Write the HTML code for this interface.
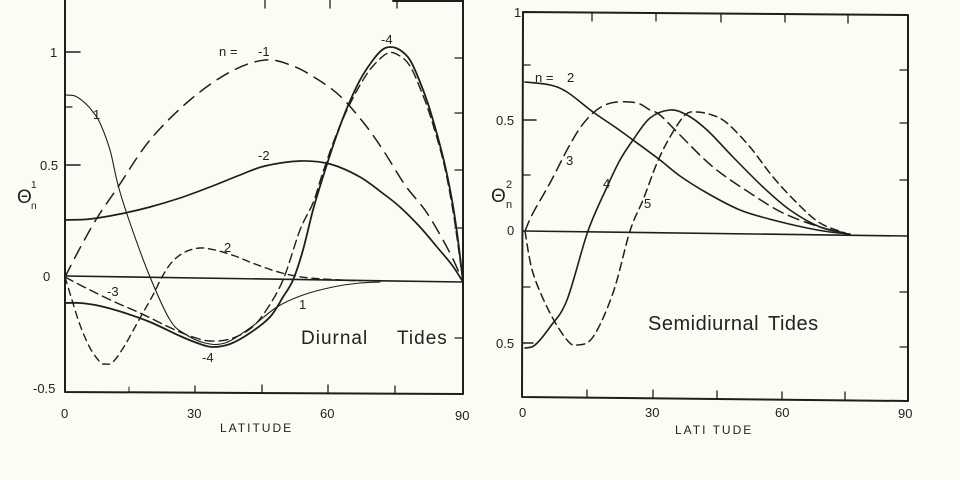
<!DOCTYPE html>
<html>
<head>
<meta charset="utf-8">
<style>
html,body{margin:0;padding:0;background:#fcfcf4;}
svg{display:block;}
text{font-family:"Liberation Sans",sans-serif;fill:#222;}
</style>
</head>
<body>
<svg id="chart" width="960" height="480" viewBox="0 0 960 480" xmlns="http://www.w3.org/2000/svg">
<rect width="960" height="480" fill="#fcfcf4"/>
<g fill="none" stroke="#1e1e1e" stroke-linejoin="round" stroke-linecap="round">
  <!-- LEFT PANEL FRAME -->
  <polyline points="65,0 65,392 463,394 463,0" stroke-width="2"/>
  <line x1="393" y1="1" x2="463" y2="1" stroke-width="2"/>
  <line x1="65" y1="52" x2="80" y2="52" stroke-width="1.5"/>
  <line x1="65" y1="107" x2="72" y2="107" stroke-width="1.2"/>
  <line x1="65" y1="165" x2="80" y2="165" stroke-width="1.5"/>
  <line x1="455" y1="58" x2="463" y2="58" stroke-width="1.3"/>
  <line x1="455" y1="113" x2="463" y2="113" stroke-width="1.3"/>
  <line x1="455" y1="170" x2="463" y2="170" stroke-width="1.3"/>
  <line x1="455" y1="228" x2="463" y2="228" stroke-width="1.3"/>
  <line x1="455" y1="338" x2="463" y2="338" stroke-width="1.3"/>
  <line x1="265" y1="0" x2="265" y2="8" stroke-width="1.3"/>
  <line x1="330" y1="0" x2="330" y2="8" stroke-width="1.3"/>
  <line x1="397" y1="0" x2="397" y2="8" stroke-width="1.3"/>
  <line x1="129" y1="387" x2="129" y2="392" stroke-width="1"/>
  <line x1="195" y1="386" x2="195" y2="393" stroke-width="1.3"/>
  <line x1="262" y1="385" x2="262" y2="393" stroke-width="1.3"/>
  <line x1="328" y1="385" x2="328" y2="393" stroke-width="1.3"/>
  <line x1="395" y1="386" x2="395" y2="394" stroke-width="1.3"/>
  <line x1="65" y1="276" x2="463" y2="282" stroke-width="1.6"/>

  <polyline class="sm" stroke-width="1.5" stroke-dasharray="13 8" points="65,277 80,248 97,218 118,187 150,140 190,100 230,72 265,60 293,66 317,79 340,96 363,122 383,150 405,185 427,213 450,253 463,282"/>
  <polyline class="sm" stroke-width="1.7" points="65,220 90,219 120,214 150,207 180,198 210,187 240,175 265,166 300,161 330,164 360,177 385,195 400,207 420,227 437,247 452,265 463,282"/>
  <polyline class="sm" stroke-width="1.1" points="65,95 75,96 85,103 93,112 100,123 110,150 118,185 130,223 150,277 170,320 185,334 205,343 225,343 250,328 277,307 303,295 333,287 360,283 380,282"/>
  <polyline class="sm" stroke-width="1.8" points="65,303 80,303 100,306 125,313 150,322 180,336 200,344 213,347 230,344 250,333 270,317 283,297 293,280 303,250 313,210 322,180 335,140 347,108 360,80 373,60 382,50 390,47 400,50 410,60 420,82 430,110 443,157 452,200 458,240 463,282"/>
  <polyline class="sm" stroke-width="1.4" stroke-dasharray="9 5" points="65,277 90,290 117,303 140,313 173,329 193,337 210,341 230,339 250,329 265,312 283,280 300,230 313,203 322,175 335,138 347,110 360,85 373,66 388,53 400,56 410,66 420,88 430,115 443,160 452,205 458,245 463,282"/>
  <polyline class="sm" stroke-width="1.4" stroke-dasharray="7 5" points="65,277 72,300 80,325 90,348 100,362 105,364 113,362 125,345 140,318 153,295 162,277 172,262 185,252 200,248 215,250 235,256 255,264 282,273 310,278 360,281"/>

  <!-- RIGHT PANEL FRAME -->
  <polyline points="523,12 908,15 908,401 522,397 523,12" stroke-width="2"/>
  <line x1="523" y1="65" x2="530" y2="65" stroke-width="1.3"/>
  <line x1="523" y1="120" x2="536" y2="120" stroke-width="1.5"/>
  <line x1="523" y1="175" x2="530" y2="175" stroke-width="1.3"/>
  <line x1="523" y1="287" x2="530" y2="287" stroke-width="1.3"/>
  <line x1="523" y1="343" x2="533" y2="343" stroke-width="1.5"/>
  <line x1="900" y1="70" x2="908" y2="70" stroke-width="1.3"/>
  <line x1="900" y1="123" x2="908" y2="123" stroke-width="1.3"/>
  <line x1="900" y1="180" x2="908" y2="180" stroke-width="1.3"/>
  <line x1="900" y1="292" x2="908" y2="292" stroke-width="1.3"/>
  <line x1="900" y1="347" x2="908" y2="347" stroke-width="1.3"/>
  <line x1="592" y1="13" x2="592" y2="21" stroke-width="1.3"/>
  <line x1="656" y1="13" x2="656" y2="21" stroke-width="1.3"/>
  <line x1="721" y1="14" x2="721" y2="22" stroke-width="1.3"/>
  <line x1="785" y1="14" x2="785" y2="22" stroke-width="1.3"/>
  <line x1="848" y1="15" x2="848" y2="23" stroke-width="1.3"/>
  <line x1="587" y1="390" x2="587" y2="398" stroke-width="1.3"/>
  <line x1="653" y1="390" x2="653" y2="398" stroke-width="1.3"/>
  <line x1="717" y1="391" x2="717" y2="399" stroke-width="1.3"/>
  <line x1="782" y1="392" x2="782" y2="400" stroke-width="1.3"/>
  <line x1="845" y1="392" x2="845" y2="400" stroke-width="1.3"/>
  <line x1="523" y1="231" x2="908" y2="236" stroke-width="1.6"/>

  <polyline class="sm" stroke-width="1.6" points="525,82 550,85 567,92 593,112 615,127 633,140 660,160 680,176 707,193 740,210 773,220 807,228 830,232 850,234"/>
  <polyline class="sm" stroke-width="1.5" stroke-dasharray="11 6" points="525,231 533,213 550,183 567,150 580,128 593,113 605,105 617,102 630,102 640,104 650,110 660,115 680,135 713,167 750,193 783,213 820,227 845,233"/>
  <polyline class="sm" stroke-width="1.6" points="525,348 535,345 550,327 567,300 588,231 607,187 620,160 633,140 650,118 670,110 687,115 707,130 733,157 763,187 790,210 820,227 845,233"/>
  <polyline class="sm" stroke-width="1.5" stroke-dasharray="8 5" points="525,231 533,273 550,313 567,340 577,345 593,337 613,293 630,231 643,200 657,163 670,137 685,115 697,112 712,115 727,123 750,147 773,177 797,203 820,223 845,233"/>
</g>

<g font-size="13">
  <text x="50" y="57">1</text>
  <text x="40" y="170">0.5</text>
  <text x="43" y="281">0</text>
  <text x="33" y="393">-0.5</text>
  <text x="61" y="418">0</text>
  <text x="187" y="418">30</text>
  <text x="320" y="418">60</text>
  <text x="455" y="420">90</text>
  <text x="220" y="432" letter-spacing="2" font-size="12">LATITUDE</text>
</g>
<text x="17" y="203" font-size="19">Θ</text>
<text x="31" y="188" font-size="10">1</text>
<text x="31" y="209" font-size="10">n</text>

<g font-size="13">
  <text x="219" y="56">n =</text>
  <text x="258" y="56">-1</text>
  <text x="93" y="119">1</text>
  <text x="258" y="160">-2</text>
  <text x="381" y="44">-4</text>
  <text x="224" y="252">2</text>
  <text x="107" y="296">-3</text>
  <text x="299" y="309">1</text>
  <text x="202" y="362">-4</text>
</g>
<text x="301" y="344" font-size="19" letter-spacing="1">Diurnal</text>
<text x="397" y="344" font-size="19" letter-spacing="1">Tides</text>

<g font-size="13">
  <text x="514" y="17">1</text>
  <text x="496" y="125">0.5</text>
  <text x="507" y="235">0</text>
  <text x="496" y="348">0.5</text>
  <text x="519" y="417">0</text>
  <text x="645" y="417">30</text>
  <text x="775" y="417">60</text>
  <text x="898" y="418">90</text>
  <text x="675" y="434" letter-spacing="2" font-size="12">LATI TUDE</text>
</g>
<text x="491" y="202" font-size="19">Θ</text>
<text x="506" y="188" font-size="11">2</text>
<text x="506" y="208" font-size="11">n</text>
<g font-size="13">
  <text x="535" y="82">n =</text>
  <text x="567" y="82">2</text>
  <text x="566" y="165">3</text>
  <text x="603" y="188">4</text>
  <text x="644" y="208">5</text>
</g>
<text x="648" y="330" font-size="20" letter-spacing="0.5">Semidiurnal</text>
<text x="768" y="330" font-size="20" letter-spacing="0.5">Tides</text>
</svg>
<script>
(function(){
  var NS="http://www.w3.org/2000/svg";
  var pls=document.querySelectorAll("polyline.sm");
  for(var i=0;i<pls.length;i++){
    var pl=pls[i];
    var pts=pl.getAttribute("points").trim().split(/\s+/).map(function(s){var a=s.split(",");return [+a[0],+a[1]];});
    var d="M"+pts[0][0]+","+pts[0][1];
    for(var j=0;j<pts.length-1;j++){
      var p0=pts[j-1]||pts[j],p1=pts[j],p2=pts[j+1],p3=pts[j+2]||pts[j+1];
      var c1x=p1[0]+(p2[0]-p0[0])/6,c1y=p1[1]+(p2[1]-p0[1])/6;
      var c2x=p2[0]-(p3[0]-p1[0])/6,c2y=p2[1]-(p3[1]-p1[1])/6;
      d+=" C"+c1x.toFixed(1)+","+c1y.toFixed(1)+" "+c2x.toFixed(1)+","+c2y.toFixed(1)+" "+p2[0]+","+p2[1];
    }
    var path=document.createElementNS(NS,"path");
    path.setAttribute("d",d);
    ["stroke-width","stroke-dasharray"].forEach(function(a){if(pl.getAttribute(a))path.setAttribute(a,pl.getAttribute(a));});
    pl.parentNode.replaceChild(path,pl);
  }
})();
</script>
</body>
</html>
